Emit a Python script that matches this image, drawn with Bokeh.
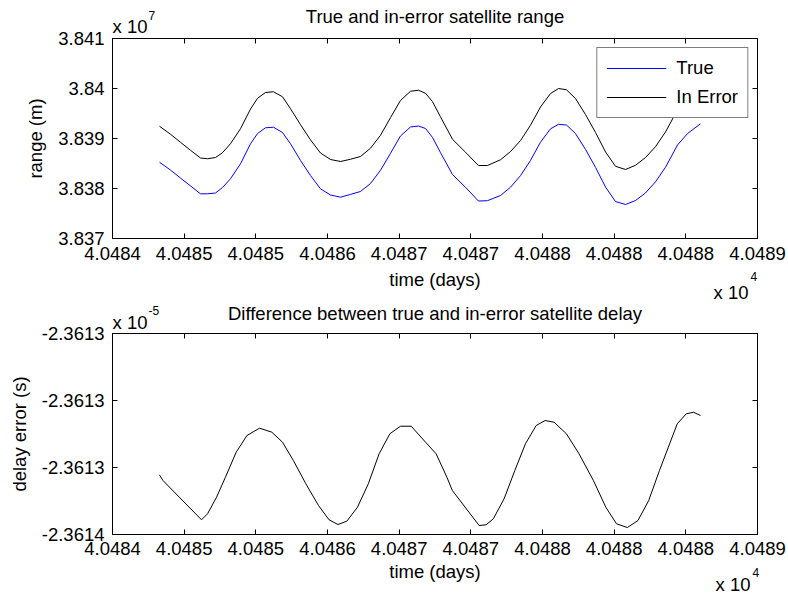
from bokeh.plotting import figure
from bokeh.models import FixedTicker, LinearAxis, Label, Range1d, Title
from bokeh.layouts import column
from bokeh.embed import file_html
from bokeh.resources import INLINE

FONT = "Liberation Sans"

# ---------------- data ----------------
# time samples (days) of the range plot
t_range = [40484.328, 40484.405, 40484.474, 40484.544, 40484.614, 40484.663, 40484.719,
           40484.767, 40484.823, 40484.893, 40484.963, 40485.012, 40485.067, 40485.123,
           40485.186, 40485.242, 40485.312, 40485.381, 40485.451, 40485.521, 40485.591,
           40485.660, 40485.730, 40485.800, 40485.870, 40485.940, 40486.009, 40486.079,
           40486.135, 40486.184, 40486.233, 40486.288, 40486.372, 40486.463, 40486.553,
           40486.616, 40486.707, 40486.777, 40486.847, 40486.916, 40486.986, 40487.056,
           40487.112, 40487.167, 40487.230, 40487.300, 40487.370, 40487.440, 40487.509,
           40487.579, 40487.649, 40487.719, 40487.788, 40487.858, 40487.942, 40488.012,
           40488.102]

# true satellite range (m)
true_range = [38385260, 38383680, 38382100, 38380520, 38378940, 38378940, 38379100,
              38380180, 38381940, 38384940, 38388940, 38391000, 38392140, 38392260,
              38391200, 38388940, 38385600, 38382600, 38379940, 38378700, 38378260,
              38378820, 38379400, 38381000, 38383660, 38387060, 38390500, 38392300,
              38392500, 38392000, 38390200, 38387200, 38382800, 38380240, 38377500,
              38377560, 38378600, 38380260, 38382600, 38385600, 38389260, 38391940,
              38392840, 38392700, 38391000, 38387820, 38384220, 38380280, 38377400,
              38376800, 38377600, 38379120, 38381320, 38384240, 38388700, 38391000,
              38392940]

# in-error satellite range (m)
error_range = [38392450, 38390850, 38389250, 38387650, 38386100, 38385950, 38386200,
               38387150, 38388950, 38391950, 38395900, 38398050, 38399200, 38399350,
               38398350, 38395950, 38392750, 38389750, 38387100, 38385800, 38385400,
               38385850, 38386400, 38388050, 38390650, 38394200, 38397600, 38399450,
               38399650, 38399050, 38397350, 38394350, 38389850, 38387250, 38384600,
               38384600, 38385750, 38387400, 38389600, 38392650, 38396300, 38399000,
               38400000, 38399750, 38398000, 38394800, 38391200, 38387300, 38384450,
               38383800, 38384650, 38386200, 38388350, 38391300, 38395750, 38398050,
               38400000]

# time samples (days) of the delay-error plot
t_delay = [40484.327, 40484.352, 40484.621, 40484.663, 40484.726, 40484.788, 40484.863,
           40484.938, 40485.026, 40485.112, 40485.186, 40485.262, 40485.349, 40485.437,
           40485.511, 40485.573, 40485.635, 40485.709, 40485.785, 40485.860, 40485.935,
           40486.009, 40486.084, 40486.184, 40486.258, 40486.333, 40486.371, 40486.558,
           40486.607, 40486.657, 40486.732, 40486.807, 40486.881, 40486.956, 40487.018,
           40487.081, 40487.167, 40487.255, 40487.355, 40487.442, 40487.516, 40487.592,
           40487.666, 40487.741, 40487.816, 40487.878, 40487.940, 40488.003, 40488.053,
           40488.102]

# delay error, in units of 1e-5 s
delay_err = [-2.36135109, -2.36135194, -2.36135781, -2.36135691, -2.36135443, -2.36135145,
             -2.36134772, -2.36134522, -2.36134413, -2.36134473, -2.36134622, -2.36134896,
             -2.36135243, -2.36135567, -2.36135781, -2.36135851, -2.36135801, -2.36135593,
             -2.36135243, -2.36134796, -2.36134497, -2.36134384, -2.36134384, -2.36134622,
             -2.36134796, -2.36135145, -2.36135343, -2.36135866, -2.36135855, -2.36135766,
             -2.36135467, -2.36135045, -2.36134646, -2.36134373, -2.36134299, -2.36134324,
             -2.36134497, -2.36134796, -2.36135194, -2.36135593, -2.36135840, -2.36135896,
             -2.36135791, -2.36135493, -2.36135045, -2.36134697, -2.36134348, -2.36134199,
             -2.36134175, -2.36134224]

# ticks and tick labels
x_ticks = [40484.0, 40484.5, 40485.0, 40485.5, 40486.0, 40486.5, 40487.0, 40487.5, 40488.0, 40488.5]
x_tick_labels = ["4.0484", "4.0485", "4.0485", "4.0486", "4.0487", "4.0487",
                 "4.0488", "4.0488", "4.0488", "4.0489"]
range_ticks = [38370000, 38380000, 38390000, 38400000, 38410000]
range_tick_labels = ["3.837", "3.838", "3.839", "3.84", "3.841"]
delay_ticks = [-2.36136, -2.36135, -2.36134, -2.36133]
delay_tick_labels = ["-2.3614", "-2.3613", "-2.3613", "-2.3613"]

X_RANGE = (40484.0, 40488.5)
RANGE_Y = (38370000, 38410000)
DELAY_Y = (-2.36136, -2.36133)

# ---------------- layout constants ----------------
FS = "18.5px"
SUP = "12px"
W = 788
FRAME_L, FRAME_R = 112, 757
SPLIT = 302            # page row where the second figure starts
TOP_T, TOP_B = 38, 238
BOT_T, BOT_B = 333, 534
ZERO = -22             # standoff that gives a text title no height of its own


def style_axis(ax, ticks, labels=None):
    ax.ticker = FixedTicker(ticks=ticks)
    ax.major_tick_in = 5
    ax.major_tick_out = 0
    ax.minor_tick_line_color = None
    ax.axis_line_color = "black"
    ax.major_tick_line_color = "black"
    ax.major_label_text_font = FONT
    ax.major_label_text_color = "black"
    ax.major_label_text_font_size = FS
    ax.axis_label_text_font = FONT
    ax.axis_label_text_font_size = FS
    ax.axis_label_text_font_style = "normal"
    ax.axis_label_text_color = "black"
    if labels is None:
        ax.major_label_standoff = 0
        ax.major_label_overrides = {t: "" for t in ticks}
    else:
        ax.major_label_overrides = {t: l for t, l in zip(ticks, labels)}


def add_title(p, text, place, align, valign, standoff, size=FS, offset=0):
    p.add_layout(Title(text=text, align=align, vertical_align=valign, standoff=standoff,
                       offset=offset, text_font=FONT, text_font_size=size,
                       text_font_style="normal", text_color="black"), place)


def set_main_title(p, text):
    p.title.text = text
    p.title.align = "center"
    p.title.vertical_align = "bottom"
    p.title.standoff = ZERO
    p.title.text_font = FONT
    p.title.text_font_size = FS
    p.title.text_font_style = "normal"
    p.title.text_color = "black"


def add_sup(p, x, y, text):
    p.add_layout(Label(x=x, y=y, text=text, text_font=FONT, text_font_size=SUP,
                       text_align="left", text_baseline="middle", text_color="black"), "right")


def make_fig(yr, yticks, ylabels, ylabel, b_top, b_bottom, height, tick_gap, label_gap):
    p = figure(width=W, height=height, x_range=Range1d(*X_RANGE), y_range=Range1d(*yr),
               output_backend="svg", toolbar_location=None,
               min_border_left=FRAME_L, min_border_right=W - FRAME_R,
               min_border_top=b_top, min_border_bottom=b_bottom,
               background_fill_color="white", border_fill_color="white",
               outline_line_color="black")
    p.grid.visible = False
    xa = p.xaxis[0]
    style_axis(xa, x_ticks, x_tick_labels)
    xa.major_label_standoff = tick_gap
    xa.axis_label = "time (days)"
    xa.axis_label_standoff = label_gap
    ya = p.yaxis[0]
    style_axis(ya, yticks, ylabels)
    ya.major_label_standoff = 8
    ya.axis_label = ylabel
    ya.axis_label_standoff = 9
    top = LinearAxis()
    style_axis(top, x_ticks)
    p.add_layout(top, "above")
    right = LinearAxis()
    style_axis(right, yticks)
    p.add_layout(right, "right")
    return p


def x_at(px):
    return X_RANGE[0] + (px - FRAME_L) * (X_RANGE[1] - X_RANGE[0]) / (FRAME_R - FRAME_L)


def y_top(py):
    return RANGE_Y[0] + (TOP_B - py) * (RANGE_Y[1] - RANGE_Y[0]) / (TOP_B - TOP_T)


def y_bot(py):
    return DELAY_Y[0] + (BOT_B - py) * (DELAY_Y[1] - DELAY_Y[0]) / (BOT_B - BOT_T)


# ---------------- top: range ----------------
p1 = make_fig(RANGE_Y, range_ticks, range_tick_labels, "range (m)",
              TOP_T, SPLIT - TOP_B, SPLIT, 8, 6)
p1.line(t_range, true_range, line_color="#0000ff", line_width=1, legend_label="True")
p1.line(t_range, error_range, line_color="black", line_width=1, legend_label="In Error")
lg = p1.legend[0]
lg.location = "top_right"
lg.margin = 9
lg.padding = 9
lg.spacing = 7
lg.glyph_width = 60
lg.glyph_height = 18
lg.label_height = 18
lg.label_standoff = 10
lg.label_text_font = FONT
lg.label_text_font_size = FS
lg.label_text_color = "black"
lg.border_line_color = "black"
lg.border_line_width = 1
lg.background_fill_color = "white"
lg.background_fill_alpha = 1.0

add_title(p1, "x 10", "above", "left", "top", 0.3)
set_main_title(p1, "True and in-error satellite range")
add_title(p1, "x 10", "below", "right", "top", ZERO, offset=9)
add_sup(p1, x_at(148), y_top(15), "7")
add_sup(p1, x_at(750), y_top(276), "4")

# ---------------- bottom: delay error ----------------
p2 = make_fig(DELAY_Y, delay_ticks, delay_tick_labels, "delay error (s)",
              BOT_T - SPLIT, 596 - BOT_B, 596 - SPLIT, 7, 3)
p2.line(t_delay, delay_err, line_color="black", line_width=1)

add_title(p2, "x 10", "above", "left", "top", -1.9)
set_main_title(p2, "Difference between true and in-error satellite delay")
add_title(p2, "x 10", "below", "right", "top", ZERO, offset=7)
add_sup(p2, x_at(148), y_bot(310), "-5")
add_sup(p2, x_at(752), y_bot(572), "4")

layout = column(p1, p2)
open("out.html", "w").write(file_html(layout, INLINE))
